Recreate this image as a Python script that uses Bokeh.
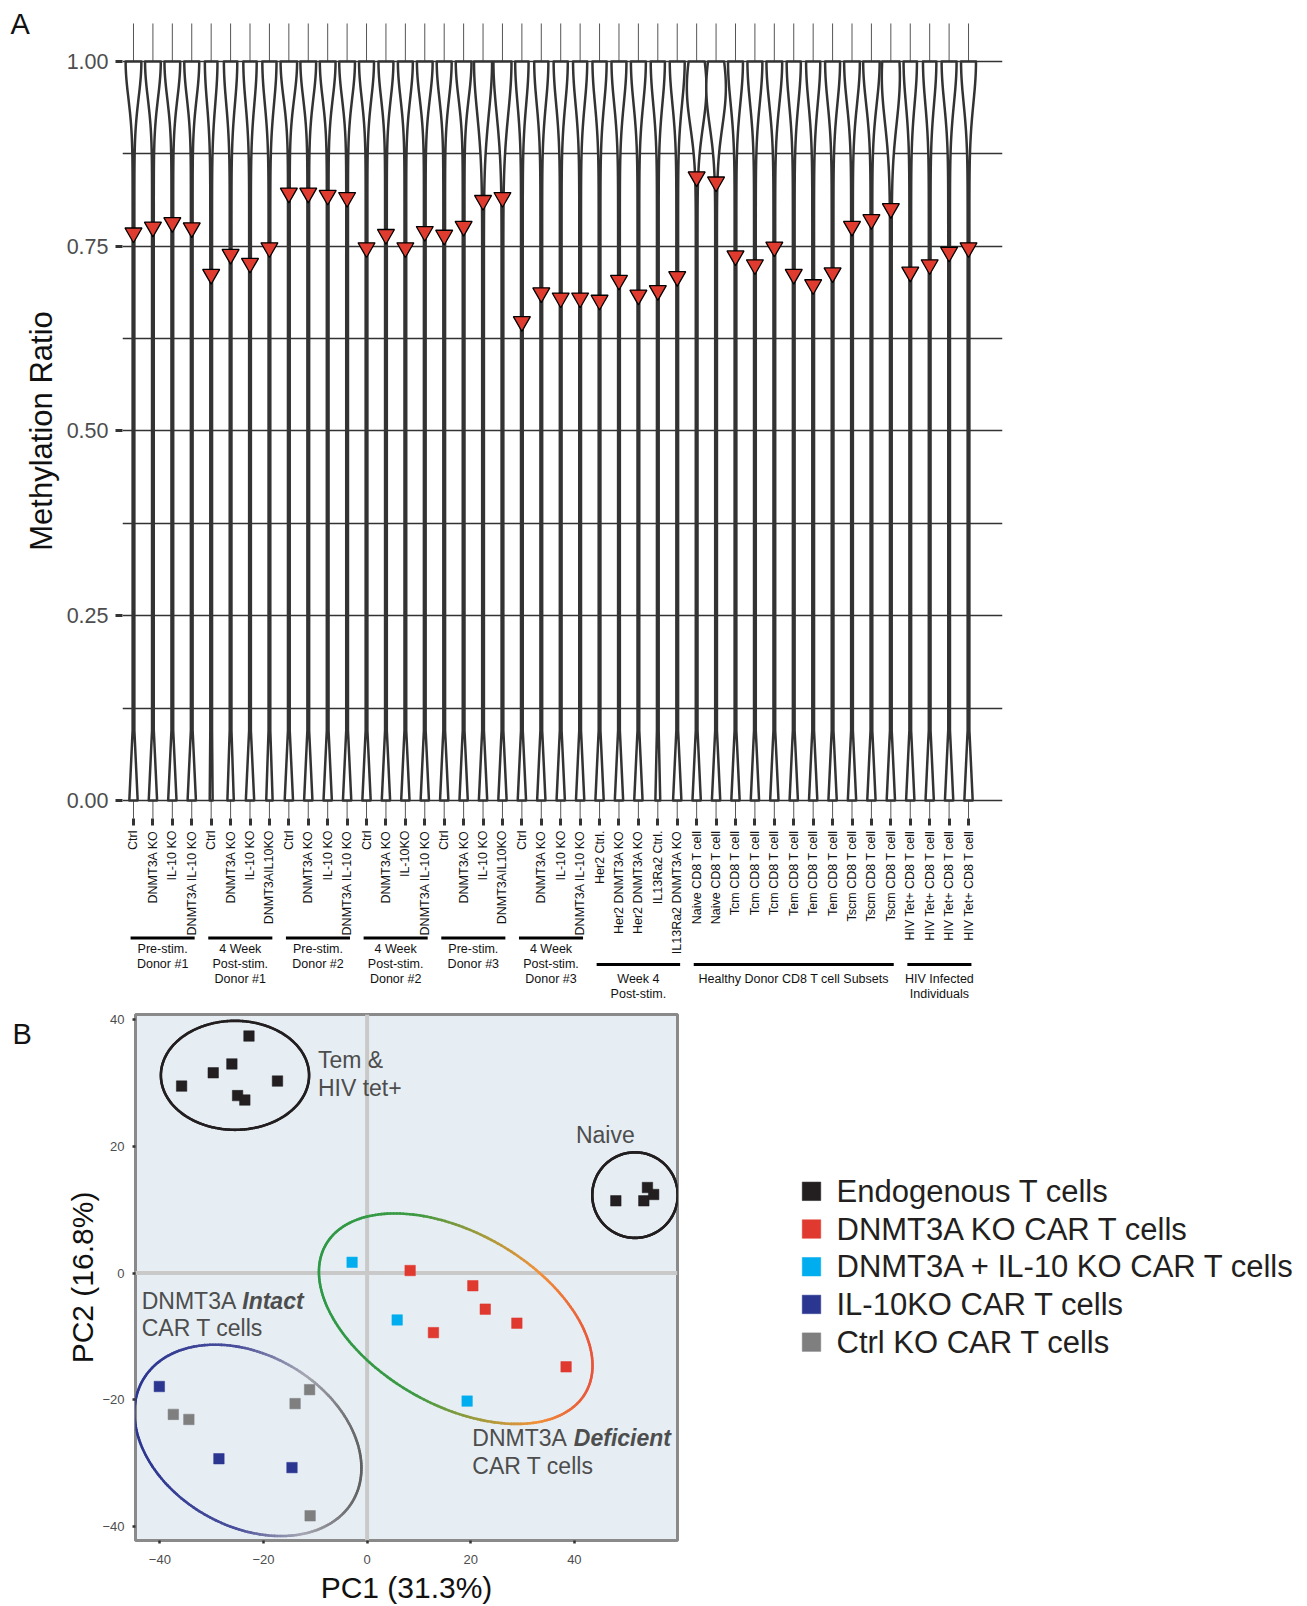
import numpy as np
from math import pi
from bokeh.plotting import figure
from bokeh.models import Range1d, FixedTicker, Span, NumeralTickFormatter
from bokeh.layouts import column, row
from bokeh.embed import file_html
from bokeh.resources import INLINE
from bokeh.core.properties import value

FONT = "Liberation Sans"

# ---------------- Panel A data ----------------
sample_labels = [
    "Ctrl", "DNMT3A KO", "IL-10 KO", "DNMT3A IL-10 KO",
    "Ctrl", "DNMT3A KO", "IL-10 KO", "DNMT3AIL10KO",
    "Ctrl", "DNMT3A KO", "IL-10 KO", "DNMT3A IL-10 KO",
    "Ctrl", "DNMT3A KO", "IL-10KO", "DNMT3A IL-10 KO",
    "Ctrl", "DNMT3A KO", "IL-10 KO", "DNMT3AIL10KO",
    "Ctrl", "DNMT3A KO", "IL-10 KO", "DNMT3A IL-10 KO",
    "Her2 Ctrl.", "Her2 DNMT3A KO", "Her2 DNMT3A KO", "IL13Ra2 Ctrl.", "IL13Ra2 DNMT3A KO",
    "Naive CD8 T cell", "Naive CD8 T cell",
    "Tcm CD8 T cell", "Tcm CD8 T cell", "Tcm CD8 T cell",
    "Tem CD8 T cell", "Tem CD8 T cell", "Tem CD8 T cell",
    "Tscm CD8 T cell", "Tscm CD8 T cell", "Tscm CD8 T cell",
    "HIV Tet+ CD8 T cell", "HIV Tet+ CD8 T cell", "HIV Tet+ CD8 T cell", "HIV Tet+ CD8 T cell",
]
median_ratio = [
    0.768, 0.776, 0.782, 0.775,
    0.712, 0.739, 0.727, 0.748,
    0.822, 0.822, 0.819, 0.816,
    0.748, 0.766, 0.748, 0.770,
    0.765, 0.777, 0.812, 0.816,
    0.648, 0.687, 0.680, 0.680,
    0.677, 0.704, 0.684, 0.690, 0.709,
    0.844, 0.837,
    0.737, 0.725, 0.749,
    0.712, 0.698, 0.714,
    0.777, 0.786, 0.801,
    0.715, 0.725, 0.742, 0.748,
]
# violin outline descriptors (upper-mode half-width, its spread, its offset, lower-mode half-width)
violin_top_w = [0.36, 0.36, 0.36, 0.34, 0.28, 0.30, 0.30, 0.32, 0.38, 0.36, 0.36, 0.36,
                0.34, 0.34, 0.34, 0.36, 0.34, 0.36, 0.42, 0.42, 0.30, 0.32, 0.32, 0.32,
                0.32, 0.34, 0.34, 0.32, 0.34, 0.46, 0.46, 0.34, 0.34, 0.36, 0.32, 0.32,
                0.34, 0.36, 0.38, 0.42, 0.30, 0.30, 0.34, 0.34]
violin_top_s = [0.07, 0.07, 0.07, 0.07, 0.08, 0.08, 0.08, 0.08, 0.07, 0.07, 0.07, 0.07,
                0.07, 0.07, 0.07, 0.07, 0.07, 0.07, 0.10, 0.10, 0.08, 0.08, 0.08, 0.08,
                0.08, 0.08, 0.08, 0.08, 0.08, 0.075, 0.075, 0.08, 0.08, 0.08, 0.08, 0.08,
                0.08, 0.08, 0.08, 0.09, 0.08, 0.08, 0.08, 0.08]
violin_top_off = [0.0] * 29 + [0.035, 0.035] + [0.0] * 8 + [0.02] + [0.0] * 4
violin_bot_w = [0.17, 0.17, 0.17, 0.17, 0.03, 0.12, 0.17, 0.12, 0.17, 0.17, 0.17, 0.17,
                0.17, 0.17, 0.17, 0.17, 0.17, 0.17, 0.17, 0.17, 0.17, 0.17, 0.17, 0.17,
                0.17, 0.17, 0.17, 0.08, 0.17, 0.17, 0.17, 0.17, 0.17, 0.17, 0.17, 0.17,
                0.17, 0.17, 0.17, 0.17, 0.17, 0.17, 0.17, 0.17]

group_lines = [["Pre-stim.", "Donor #1"], ["4 Week", "Post-stim.", "Donor #1"],
               ["Pre-stim.", "Donor #2"], ["4 Week", "Post-stim.", "Donor #2"],
               ["Pre-stim.", "Donor #3"], ["4 Week", "Post-stim.", "Donor #3"],
               ["Week 4", "Post-stim."], ["Healthy Donor CD8 T cell Subsets"],
               ["HIV Infected", "Individuals"]]
group_first = [0, 4, 8, 12, 16, 20, 24, 29, 40]
group_last = [3, 7, 11, 15, 19, 23, 28, 39, 43]
group_tier = [0, 0, 0, 0, 0, 0, 1, 1, 1]

y_ticks_A = [0, 0.25, 0.5, 0.75, 1.0]

# ---------------- Panel B data ----------------
series_names = ["Endogenous T cells", "DNMT3A KO CAR T cells", "DNMT3A + IL-10 KO CAR T cells",
                "IL-10KO CAR T cells", "Ctrl KO CAR T cells"]
series_colors = ["#231f20", "#e0392f", "#00aeef", "#2b3691", "#7f7f80"]
endo_x = [-35.8, -29.7, -26.1, -25.0, -23.6, -22.8, -17.3, 48.0, 53.4, 54.1, 55.3]
endo_y = [29.5, 31.6, 33.0, 28.0, 27.3, 37.4, 30.3, 11.4, 11.4, 13.5, 12.4]
dko_x = [8.3, 20.4, 22.8, 28.9, 12.8, 38.4]
dko_y = [0.4, -2.0, -5.7, -7.9, -9.4, -14.8]
dil_x = [-2.9, 5.8, 19.3]
dil_y = [1.7, -7.4, -20.2]
il_x = [-40.1, -28.6, -14.5]
il_y = [-17.9, -29.3, -30.7]
ctrl_x = [-37.4, -34.4, -13.9, -11.1, -11.0]
ctrl_y = [-22.3, -23.1, -20.6, -18.4, -38.3]
pc_x = [endo_x, dko_x, dil_x, il_x, ctrl_x]
pc_y = [endo_y, dko_y, dil_y, il_y, ctrl_y]

# cluster ellipses: x = cx + ax*cos t ; y = cy + cxy*cos t + dy*sin t
ell_cx = [-25.5, 51.7, 17.1, -23.0]
ell_cy = [31.2, 12.3, -7.2, -26.4]
ell_ax = [14.3, 8.25, 26.4, 21.9]
ell_cxy = [0.0, 0.0, -7.39, -4.38]
ell_dy = [8.6, 6.75, 14.87, 14.45]
ell_stops = [
    [(0.0, "#231f20"), (1.0, "#231f20")],
    [(0.0, "#231f20"), (1.0, "#231f20")],
    [(0.0, "#2e9946"), (0.35, "#3c9a44"), (0.6, "#a59a3a"), (0.8, "#f0913a"), (1.0, "#e9543a")],
    [(0.0, "#2b3590"), (0.45, "#4a4f9c"), (0.75, "#a7a7b3"), (1.0, "#606060")],
]

# ================= Panel A =================
n = len(sample_labels)
xs = list(range(n))
A_H = 1001
pA = figure(width=948, height=A_H, x_range=Range1d(-0.566, 44.75), y_range=Range1d(-0.272, 1.0825),
            min_border_left=62, min_border_right=6, min_border_top=0, min_border_bottom=0,
            toolbar_location=None, output_backend="svg")
pA.outline_line_color = None
pA.xgrid.visible = False
pA.ygrid.ticker = FixedTicker(ticks=[k / 8 for k in range(9)])
pA.ygrid.grid_line_color = "#333333"
pA.ygrid.grid_line_width = 1.3

pA.segment(x0=xs, y0=[-0.0244] * n, x1=xs, y1=[1.0514] * n, line_color="#555555", line_width=1)

yy = np.linspace(0, 1, 201)
vx, vy = [], []
for i in range(n):
    w = (0.045
         + violin_top_w[i] * np.exp(-((1 - violin_top_off[i] - yy) / violin_top_s[i]) ** 2)
         + violin_bot_w[i] * np.clip(1 - yy / 0.095, 0, None))
    vx.append(np.concatenate([i - w, (i + w)[::-1]]))
    vy.append(np.concatenate([yy, yy[::-1]]))
pA.patches(vx, vy, fill_color="white", line_color="#333333", line_width=2.5, line_join="round")

pA.scatter(x=xs, y=median_ratio, marker="inverted_triangle", size=17,
           fill_color="#df3b2f", line_color="black", line_width=1.3)

ax = pA.xaxis[0]
ax.fixed_location = -0.0244
ax.ticker = FixedTicker(ticks=xs)
ax.major_label_overrides = {i: lab for i, lab in enumerate(sample_labels)}
ax.major_label_orientation = pi / 2
ax.major_tick_out = 7
ax.major_tick_in = 0
ax.major_tick_line_width = 3
ax.major_tick_line_color = "#333333"
ax.minor_tick_line_color = None
ax.axis_line_color = None
ax.major_label_standoff = 5
ax.major_label_text_font = FONT
ax.major_label_text_font_size = "12.5px"
ax.major_label_text_color = "#111111"

ay = pA.yaxis[0]
ay.ticker = FixedTicker(ticks=y_ticks_A)
ay.formatter = NumeralTickFormatter(format="0.00")
ay.major_tick_out = 7
ay.major_tick_in = 0
ay.major_tick_line_width = 3
ay.major_tick_line_color = "#333333"
ay.minor_tick_line_color = None
ay.axis_line_color = None
ay.major_label_standoff = 7
ay.major_label_text_font = FONT
ay.major_label_text_font_size = "21.5px"
ay.major_label_text_color = "#4d4d4d"

# group annotations
bar_y = [-0.186, -0.222]
row0 = [-0.2003, -0.2409]
row_step = -0.0203
bx0 = [f - 0.15 for f in group_first]
bx1 = [l + 0.15 for l in group_last]
by = [bar_y[t] for t in group_tier]
pA.segment(x0=bx0, y0=by, x1=bx1, y1=by, line_color="black", line_width=3)
tx, ty, tt = [], [], []
for g, lines in enumerate(group_lines):
    for k, s in enumerate(lines):
        tx.append((group_first[g] + group_last[g]) / 2)
        ty.append(row0[group_tier[g]] + k * row_step)
        tt.append(s)
pA.text(x=tx, y=ty, text=tt, text_font=value(FONT), text_font_size="12.5px",
        text_align="center", text_baseline="middle", text_color="#111111")

# left strip of panel A: panel letter and y title
pAL = figure(width=60, height=A_H, x_range=Range1d(0, 60), y_range=pA.y_range,
             min_border_left=0, min_border_right=0, min_border_top=0, min_border_bottom=0,
             toolbar_location=None, output_backend="svg", x_axis_location=None, y_axis_location=None)
pAL.grid.visible = False
pAL.outline_line_color = None
pAL.text(x=[41], y=[0.5], text=["Methylation Ratio"], angle=pi / 2, text_font=value(FONT),
         text_font_size="31px", text_align="center", text_baseline="middle", text_color="#111111")
pAL.text(x=[10], y=[1.0507], text=["A"], text_font=value(FONT), text_font_size="29px",
         text_align="left", text_baseline="middle", text_color="#111111")

# ================= Panel B =================
B_H = 605
B_TOP = 13
B_BOT = 65
pB = figure(width=640, height=B_H, x_range=Range1d(-44.7, 59.9), y_range=Range1d(-42.2, 40.8),
            min_border_left=95, min_border_right=3, min_border_top=B_TOP, min_border_bottom=B_BOT,
            toolbar_location=None, output_backend="svg")
pB.background_fill_color = "#e6eef3"
pB.outline_line_color = "#8a8a8a"
pB.outline_line_width = 3
pB.grid.visible = False
pB.add_layout(Span(location=0, dimension="height", line_color="#c9c9c9", line_width=4, level="underlay"))
pB.add_layout(Span(location=0, dimension="width", line_color="#c9c9c9", line_width=4, level="underlay"))

pc_ticks = [-40, -20, 0, 20, 40]
pc_tick_labels = {-40: "\u221240", -20: "\u221220", 0: "0", 20: "20", 40: "40"}
for a in (pB.xaxis[0], pB.yaxis[0]):
    a.ticker = FixedTicker(ticks=pc_ticks)
    a.major_label_overrides = pc_tick_labels
    a.major_tick_out = 3
    a.major_tick_in = 0
    a.major_tick_line_width = 2.5
    a.major_tick_line_color = "#333333"
    a.minor_tick_line_color = None
    a.axis_line_color = None
    a.major_label_text_font = FONT
    a.major_label_text_font_size = "13px"
    a.major_label_text_color = "#4d4d4d"
    a.axis_label_text_font = FONT
    a.axis_label_text_font_size = "30px"
    a.axis_label_text_font_style = "normal"
    a.axis_label_text_color = "#111111"
pB.xaxis[0].axis_label = "PC1 (31.3%)"
pB.yaxis[0].axis_label = "PC2 (16.8%)"
pB.xaxis[0].major_label_standoff = 11
pB.xaxis[0].axis_label_standoff = 4
pB.yaxis[0].major_label_standoff = 8
pB.yaxis[0].axis_label_standoff = 0


def interp_color(stops, u):
    for (p0, c0), (p1, c1) in zip(stops[:-1], stops[1:]):
        if u <= p1:
            f = 0 if p1 == p0 else (u - p0) / (p1 - p0)
            a0 = [int(c0[j:j + 2], 16) for j in (1, 3, 5)]
            a1 = [int(c1[j:j + 2], 16) for j in (1, 3, 5)]
            return "#%02x%02x%02x" % tuple(int(round(a0[k] + (a1[k] - a0[k]) * f)) for k in range(3))
    return stops[-1][1]


tt_ = np.linspace(0, 2 * np.pi, 241)
for e in range(len(ell_cx)):
    ex = ell_cx[e] + ell_ax[e] * np.cos(tt_)
    ey = ell_cy[e] + ell_cxy[e] * np.cos(tt_) + ell_dy[e] * np.sin(tt_)
    um = (np.cos((tt_[:-1] + tt_[1:]) / 2) + 1) / 2
    cols = [interp_color(ell_stops[e], u) for u in um]
    pB.segment(x0=ex[:-1], y0=ey[:-1], x1=ex[1:], y1=ey[1:], line_color=cols,
               line_width=2.6, line_cap="round")

for k in range(len(series_names)):
    pB.scatter(x=pc_x[k], y=pc_y[k], marker="square", size=10.5, fill_color=series_colors[k],
               line_color=series_colors[k], line_width=0.5)

txt_kw = dict(text_font=value(FONT), text_font_size="23px", text_color="#4d4d4d",
              text_align="left", text_baseline="middle")
pB.text(x=[-9.49, -9.49, 40.3, -43.5, -43.5, 20.3, 20.3],
        y=[33.6, 29.2, 21.8, -4.35, -8.7, -26.1, -30.5],
        text=["Tem &", "HIV tet+", "Naive", "DNMT3A", "CAR T cells", "DNMT3A", "CAR T cells"], **txt_kw)
pB.text(x=[-24.1, 39.9], y=[-4.35, -26.1], text=["Intact", "Deficient"],
        text_font_style="bold italic", **txt_kw)

# left strip of panel B: panel letter
pBL = figure(width=40, height=B_H, x_range=Range1d(0, 40), y_range=pB.y_range,
             min_border_left=0, min_border_right=0, min_border_top=B_TOP, min_border_bottom=B_BOT,
             toolbar_location=None, output_backend="svg", x_axis_location=None, y_axis_location=None)
pBL.grid.visible = False
pBL.outline_line_color = None
pBL.text(x=[12], y=[37.65], text=["B"], text_font=value(FONT), text_font_size="29px",
         text_align="left", text_baseline="middle", text_color="#111111")

# ================= Legend =================
pL = figure(width=620, height=B_H, x_range=Range1d(0, 620), y_range=pB.y_range,
            min_border_left=0, min_border_right=0, min_border_top=B_TOP, min_border_bottom=B_BOT,
            toolbar_location=None, output_backend="svg", x_axis_location=None, y_axis_location=None)
pL.grid.visible = False
pL.outline_line_color = None
leg_y = [12.9 - 5.95 * k for k in range(len(series_names))]
pL.scatter(x=[131] * len(series_names), y=leg_y, marker="square", size=18.5,
           fill_color=series_colors, line_color=series_colors, line_width=0.5)
pL.text(x=[156] * len(series_names), y=leg_y, text=series_names, text_font=value(FONT),
        text_font_size="31px", text_color="#231f20", text_align="left", text_baseline="middle")

layout = column(row(pAL, pA), row(pBL, pB, pL))
open("out.html", "w").write(file_html(layout, INLINE))
